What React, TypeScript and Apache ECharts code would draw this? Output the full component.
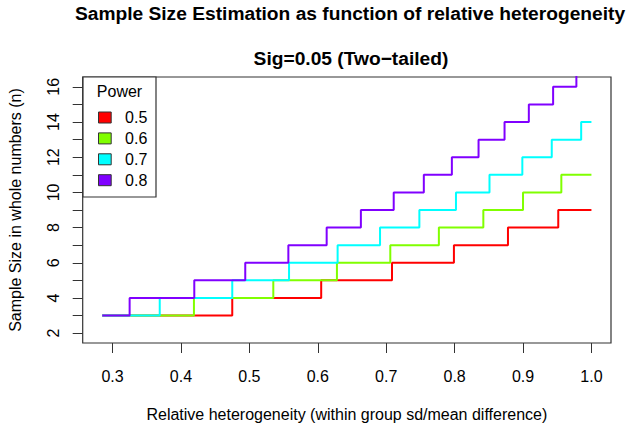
import React, { useEffect, useRef } from "react";
import * as echarts from "echarts";

// ---- Data ----
const mainTitle = "Sample Size Estimation as function of relative heterogeneity";
const subTitle = "Sig=0.05 (Two\u2212tailed)";
const xAxisTitle = "Relative heterogeneity (within group sd/mean difference)";
const yAxisTitle = "Sample Size in whole numbers (n)";
const legendTitle = "Power";

const powerLevels = ["0.5", "0.6", "0.7", "0.8"];
const powerColors = ["#FF0000", "#80FF00", "#00FFFF", "#8000FF"];

const xStart = 0.285;
const xEnd = 1.0;

// x positions where the sample size steps up, and the sample size on each level
const steps05 = [0.475, 0.605, 0.7085, 0.799, 0.878, 0.9515];
const sizes05 = [3, 4, 5, 6, 7, 8, 9];
const steps06 = [0.419, 0.535, 0.628, 0.706, 0.777, 0.842, 0.9, 0.956];
const sizes06 = [3, 4, 5, 6, 7, 8, 9, 10, 11];
const steps07 = [0.369, 0.475, 0.558, 0.629, 0.691, 0.7485, 0.802, 0.851, 0.899, 0.942, 0.985];
const sizes07 = [3, 4, 5, 6, 7, 8, 9, 10, 11, 12, 13, 14];
const steps08 = [0.325, 0.4195, 0.494, 0.557, 0.613, 0.663, 0.711, 0.755, 0.796, 0.835, 0.873, 0.9085, 0.944, 0.978];
const sizes08 = [3, 4, 5, 6, 7, 8, 9, 10, 11, 12, 13, 14, 15, 16, 17];

const xTicks = [0.3, 0.4, 0.5, 0.6, 0.7, 0.8, 0.9, 1.0];
const yTicks = [2, 3, 4, 5, 6, 7, 8, 9, 10, 11, 12, 13, 14, 15, 16];
const yTickLabels = [2, 4, 6, 8, 10, 12, 14, 16];

const xMin = 0.2564;
const xMax = 1.0286;
const yMin = 1.44;
const yMax = 16.56;

const allSteps = [steps05, steps06, steps07, steps08];
const allSizes = [sizes05, sizes06, sizes07, sizes08];

function buildStepData(steps: number[], sizes: number[]): number[][] {
  const pts: number[][] = [[xStart, sizes[0]]];
  steps.forEach((x, i) => pts.push([x, sizes[i + 1]]));
  pts.push([xEnd, sizes[sizes.length - 1]]);
  return pts;
}

const FONT = "'Liberation Sans', Arial, Helvetica, sans-serif";

export default function App() {
  const ref = useRef<HTMLDivElement>(null);

  useEffect(() => {
    if (!ref.current) return;
    const chart = echarts.init(ref.current, undefined, { renderer: "svg" });

    const gridLeft = 82.7;
    const gridTop = 77;
    const gridRight = 21;
    const gridBottom = 87;

    const option: any = {
      animation: false,
      backgroundColor: "#ffffff",
      textStyle: { fontFamily: FONT },
      grid: {
        left: gridLeft,
        right: gridRight,
        top: gridTop,
        bottom: gridBottom,
        show: true,
        borderColor: "#333",
        borderWidth: 1.2,
        backgroundColor: "transparent",
        containLabel: false,
        outerBoundsMode: "none",
      },
      xAxis: {
        type: "value",
        min: xMin,
        max: xMax,
        name: xAxisTitle,
        nameLocation: "middle",
        nameGap: 63,
        nameTextStyle: { fontSize: 16, color: "#000", fontFamily: FONT },
        axisLine: { show: false },
        splitLine: { show: false },
        axisTick: {
          show: true,
          length: 10,
          lineStyle: { color: "#333", width: 1 },
          customValues: xTicks,
        },
        axisLabel: {
          fontSize: 16,
          color: "#000",
          margin: 25,
          fontFamily: FONT,
          customValues: xTicks,
          formatter: (v: number) => v.toFixed(1),
        },
      },
      yAxis: {
        type: "value",
        min: yMin,
        max: yMax,
        name: yAxisTitle,
        nameLocation: "middle",
        nameGap: 59,
        nameRotate: 90,
        nameTextStyle: { fontSize: 16, color: "#000", fontFamily: FONT },
        axisLine: { show: false },
        splitLine: { show: false },
        axisTick: {
          show: true,
          length: 10,
          lineStyle: { color: "#333", width: 1 },
          customValues: yTicks,
        },
        axisLabel: {
          fontSize: 16,
          color: "#000",
          margin: 21,
          rotate: 90,
          fontFamily: FONT,
          customValues: yTickLabels,
          formatter: (v: number) => String(Math.round(v)),
        },
      },
      legend: {
        show: true,
        orient: "vertical",
        left: 98,
        top: 109.5,
        padding: 0,
        itemWidth: 12.7,
        itemHeight: 11,
        itemGap: 4.9,
        icon: "rect",
        selectedMode: false,
        z: 20,
        data: powerLevels,
        formatter: (name: string) => "  " + name,
        textStyle: { fontSize: 16, color: "#000", fontFamily: FONT },
        itemStyle: { borderColor: "#333", borderWidth: 1 },
      },
      graphic: [
        {
          type: "text",
          x: 350,
          y: 13.5,
          style: {
            text: mainTitle,
            font: `bold 19.2px ${FONT}`,
            fill: "#000",
            align: "center",
            verticalAlign: "middle",
          },
        },
        {
          type: "text",
          x: 351,
          y: 58.5,
          style: {
            text: subTitle,
            font: `bold 19.2px ${FONT}`,
            fill: "#000",
            align: "center",
            verticalAlign: "middle",
          },
        },
        {
          type: "rect",
          z: 10,
          shape: { x: 83, y: 77, width: 73, height: 120 },
          style: { fill: "#fff", stroke: "#333", lineWidth: 1.2 },
        },
        {
          type: "text",
          z: 11,
          x: 119.5,
          y: 91.8,
          style: {
            text: legendTitle,
            font: `16px ${FONT}`,
            fill: "#000",
            align: "center",
            verticalAlign: "middle",
          },
        },
      ],
      series: powerLevels.map((p, i) => ({
        name: p,
        type: "line",
        step: "end",
        showSymbol: false,
        symbol: "none",
        clip: true,
        color: powerColors[i],
        itemStyle: { color: powerColors[i] },
        lineStyle: { color: powerColors[i], width: 2 },
        data: buildStepData(allSteps[i], allSizes[i]),
        z: 2 + i,
      })),
    };

    chart.setOption(option);
    return () => {
      chart.dispose();
    };
  }, []);

  return (
    <div
      ref={ref}
      style={{ position: "fixed", left: 0, top: 0, width: 632, height: 430 }}
    />
  );
}
